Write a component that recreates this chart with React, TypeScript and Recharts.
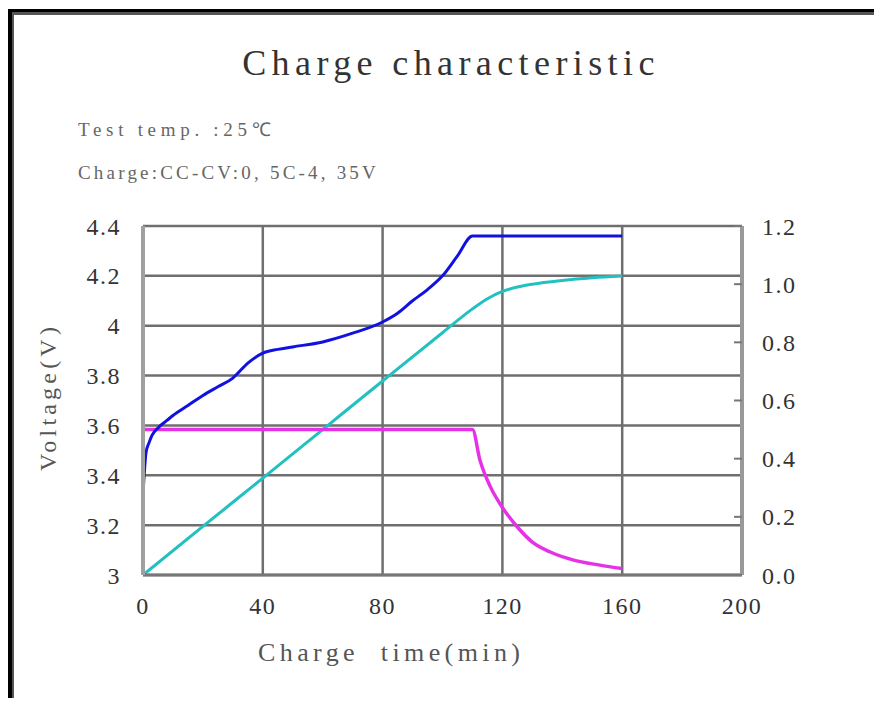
import React from "react";
import { LineChart, Line, XAxis, YAxis, CartesianGrid } from "recharts";

// charge time (min) and cell voltage (V), left axis
const voltageTime = [0, 0.5, 1, 2, 3, 5, 8, 10, 15, 20, 25, 30, 35, 40, 45, 50, 60, 70, 80, 85, 90, 95, 100, 105, 110, 120, 140, 160];
const voltage = [3.33, 3.42, 3.49, 3.53, 3.56, 3.59, 3.62, 3.64, 3.68, 3.72, 3.755, 3.79, 3.85, 3.89, 3.905, 3.915, 3.935, 3.97, 4.015, 4.05, 4.1, 4.145, 4.2, 4.28, 4.36, 4.36, 4.36, 4.36];

// charged capacity (C), right axis
const capacityTime = [0, 20, 40, 60, 80, 100, 110, 115, 120, 125, 130, 140, 150, 160];
const capacity = [0, 0.167, 0.333, 0.5, 0.667, 0.833, 0.915, 0.95, 0.975, 0.99, 1.0, 1.013, 1.022, 1.028];

// charge current (C), right axis
const currentTime = [0, 40, 80, 110, 112.5, 116, 119, 125, 130, 136, 143.5, 152.5, 160];
const current = [0.5, 0.5, 0.5, 0.5, 0.395, 0.303, 0.248, 0.165, 0.113, 0.079, 0.052, 0.034, 0.022];

const xTicks = [0, 40, 80, 120, 160, 200];
const leftTicks = [3, 3.2, 3.4, 3.6, 3.8, 4, 4.2, 4.4];
const rightTicks = [0, 0.2, 0.4, 0.6, 0.8, 1.0, 1.2];

const voltageData = voltageTime.map((t, i) => ({ t, v: voltage[i] }));
const capacityData = capacityTime.map((t, i) => ({ t, v: capacity[i] }));
const currentData = currentTime.map((t, i) => ({ t, v: current[i] }));

const font = "'Liberation Serif', 'Times New Roman', serif";

export default function App() {
  return (
    <div style={{ position: "relative", width: 874, height: 690, background: "#fff", fontFamily: font, overflow: "hidden" }}>
      <div style={{ position: "absolute", left: 0, top: 0 }}>
        <LineChart width={874} height={690} margin={{ top: 218, right: 60, bottom: 83, left: 75 }}>
          <CartesianGrid yAxisId="left" stroke="#6f6f6f" strokeWidth={2.5} horizontalValues={leftTicks} verticalValues={xTicks} />
          <XAxis
            dataKey="t"
            type="number"
            domain={[0, 200]}
            ticks={xTicks}
            allowDataOverflow
            height={40}
            axisLine={{ stroke: "#777", strokeWidth: 3 }}
            tickLine={false}
            tickSize={0}
            tickMargin={22}
            tick={{ fontSize: 24, fill: "#333", fontFamily: font, letterSpacing: 1.5 }}
          />
          <YAxis
            yAxisId="left"
            domain={[3, 4.4]}
            ticks={leftTicks}
            width={60}
            axisLine={{ stroke: "#a0a0a0", strokeWidth: 4 }}
            tickLine={false}
            tickSize={0}
            tickMargin={22}
            tick={{ fontSize: 24, fill: "#333", fontFamily: font, letterSpacing: 1.5 }}
          />
          <YAxis
            yAxisId="right"
            orientation="right"
            domain={[0, 1.2]}
            ticks={rightTicks}
            tickFormatter={(v: number) => v.toFixed(1)}
            width={80}
            axisLine={{ stroke: "#999", strokeWidth: 4 }}
            tickLine={{ stroke: "#777", strokeWidth: 2 }}
            tickSize={-8}
            tickMargin={28}
            tick={{ fontSize: 24, fill: "#333", fontFamily: font, letterSpacing: 1.5 }}
          />
          <Line yAxisId="right" data={capacityData} dataKey="v" type="monotone" stroke="#22c0c0" strokeWidth={3} dot={false} isAnimationActive={false} />
          <Line yAxisId="right" data={currentData} dataKey="v" type="monotone" stroke="#e632e6" strokeWidth={3.5} dot={false} isAnimationActive={false} />
          <Line yAxisId="left" data={voltageData} dataKey="v" type="monotone" stroke="#1212e0" strokeWidth={3} dot={false} isAnimationActive={false} />
        </LineChart>
      </div>

      {/* blank strip at the right edge */}
      <div style={{ position: "absolute", left: 850, top: 0, width: 24, height: 690, background: "#fff" }} />

      {/* frame edges, only top and left are in the picture */}
      <div style={{ position: "absolute", left: 0, top: 1, width: 874, height: 3, background: "#000" }} />
      <div style={{ position: "absolute", left: 4, top: 4, width: 870, height: 3, background: "#555" }} />
      <div style={{ position: "absolute", left: 0, top: 1, width: 4, height: 689, background: "#000" }} />
      <div style={{ position: "absolute", left: 4, top: 4, width: 2, height: 686, background: "#555" }} />

      <div style={{ position: "absolute", left: 0, width: 886, top: 34, textAlign: "center", fontSize: 36, letterSpacing: 5.4, color: "#333" }}>
        Charge characteristic
      </div>
      <div style={{ position: "absolute", left: 70, top: 108, fontSize: 19, letterSpacing: 4.7, color: "#666" }}>
        Test temp. :25℃
      </div>
      <div style={{ position: "absolute", left: 70, top: 154, fontSize: 19, letterSpacing: 3.2, color: "#666" }}>
        Charge:CC-CV:0, 5C-4, 35V
      </div>
      <div
        style={{
          position: "absolute",
          left: 40,
          top: 389,
          fontSize: 24,
          letterSpacing: 4.2,
          color: "#555",
          transform: "translate(-50%, -50%) rotate(-90deg)",
          whiteSpace: "nowrap",
        }}
      >
        Voltage(V)
      </div>
      <div style={{ position: "absolute", left: 250, top: 630, fontSize: 26, letterSpacing: 4.4, color: "#555", whiteSpace: "pre" }}>
        Charge  time(min)
      </div>
    </div>
  );
}
